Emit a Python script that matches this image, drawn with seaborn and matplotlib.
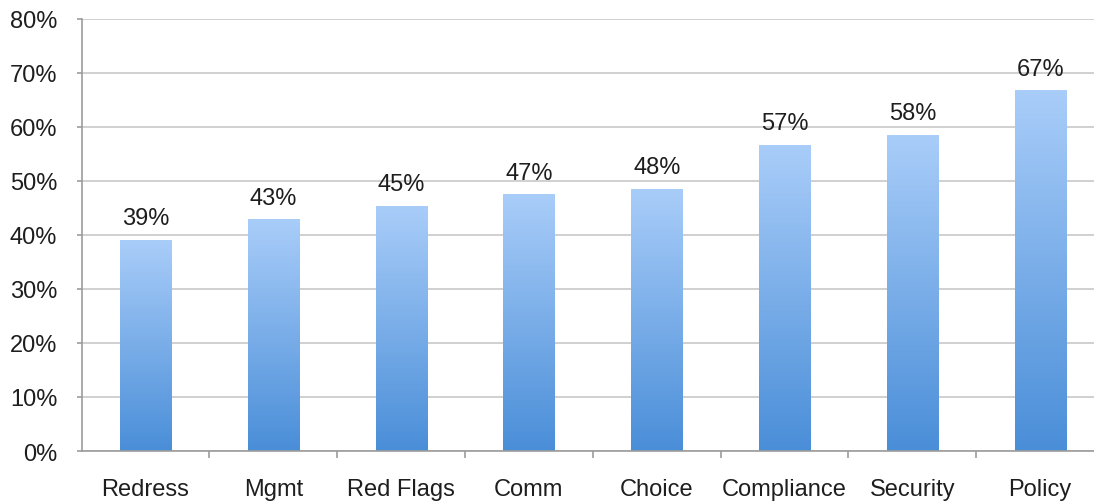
import numpy as np
import pandas as pd
import matplotlib
matplotlib.use("Agg")
import matplotlib.pyplot as plt
from matplotlib.colors import LinearSegmentedColormap
from matplotlib.ticker import FixedLocator, PercentFormatter
import seaborn as sns

# Share of respondents per category
categories = ["Redress", "Mgmt", "Red Flags", "Comm", "Choice", "Compliance", "Security", "Policy"]
shares = [0.390, 0.428, 0.453, 0.474, 0.484, 0.566, 0.584, 0.666]

df = pd.DataFrame({"category": categories, "share": shares})

sns.set_theme(style="white")
plt.rcParams["font.family"] = ["Liberation Sans", "DejaVu Sans"]

fig = plt.figure(figsize=(10.94, 5.02), dpi=100)
ax = fig.add_axes([0.0746, 0.0996, 0.9346, 0.8615])

sns.barplot(data=df, x="category", y="share", color="#6ea6e6", width=0.4, ax=ax)

# vertical gradient inside each bar: light at the top, deeper blue at the bottom
grad_cmap = LinearSegmentedColormap.from_list("bar_grad", ["#4a8ed8", "#a9cdf9"])
grad = np.linspace(0, 1, 256).reshape(-1, 1)
for patch in ax.patches:
    x0, y0 = patch.get_x(), patch.get_y()
    w, h = patch.get_width(), patch.get_height()
    ax.imshow(grad, cmap=grad_cmap, origin="lower", aspect="auto",
              extent=(x0, x0 + w, y0, y0 + h), zorder=2, interpolation="bilinear")
    patch.set_visible(False)

# value labels above bars
for i, v in enumerate(shares):
    ax.annotate(f"{v:.0%}", xy=(i, v), xytext=(0, 11.5), textcoords="offset points",
                ha="center", va="baseline", fontsize=17, color="#1e1e1e", zorder=3)

ax.set_xlim(-0.5, len(categories) - 0.5)
ax.set_ylim(0, 0.80)
ax.yaxis.set_major_locator(FixedLocator(np.arange(0, 0.81, 0.10)))
ax.yaxis.set_major_formatter(PercentFormatter(1.0, decimals=0))

ax.set_axisbelow(True)
ax.grid(axis="y", color="#c8c8c8", linewidth=1.2)
ax.grid(axis="x", visible=False)

for side in ("top", "right"):
    ax.spines[side].set_visible(False)
for side in ("left", "bottom"):
    ax.spines[side].set_visible(True)
    ax.spines[side].set_color("#9c9c9c")
    ax.spines[side].set_linewidth(1.2)

# category separators as minor ticks on the x axis
ax.xaxis.set_minor_locator(FixedLocator(np.arange(0.5, len(categories) - 0.5, 1.0)))
ax.tick_params(axis="x", which="major", length=0, pad=19.5, labelsize=17, labelcolor="#1e1e1e")
ax.tick_params(axis="x", which="minor", bottom=True, length=5, width=1.2, color="#9c9c9c", direction="out")
ax.tick_params(axis="y", which="major", left=True, length=3.6, width=1.2, color="#9c9c9c",
               pad=14, labelsize=17, labelcolor="#1e1e1e", direction="out")

ax.set_xlabel("")
ax.set_ylabel("")

fig.savefig("out.png", dpi=100)
